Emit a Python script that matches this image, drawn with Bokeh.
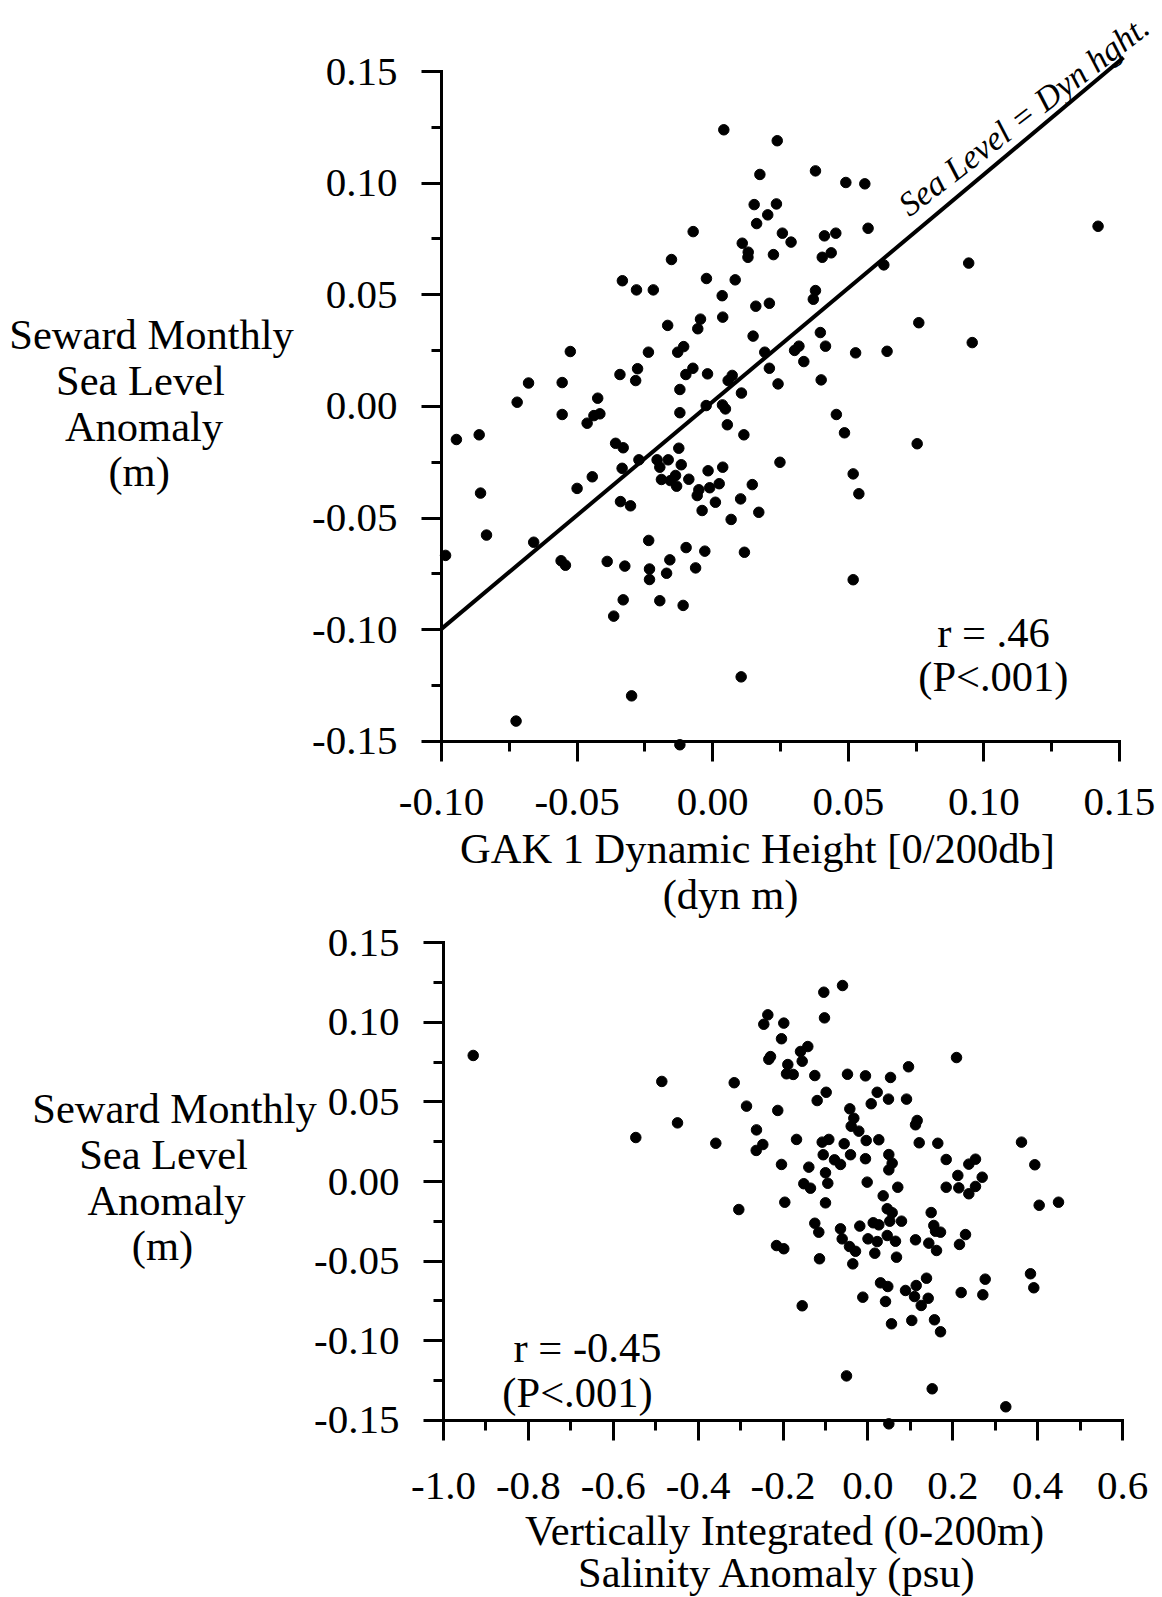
import math
from bokeh.plotting import figure
from bokeh.models import FixedTicker, Range1d, Label, LinearAxis
from bokeh.embed import file_html
from bokeh.resources import INLINE

FONT = "Liberation Serif"

# ---------------- data: top panel (GAK1 dynamic height vs sea level) ----------------
top_x = [0.0041, 0.0238, 0.0174, 0.0153, 0.0235, 0.0203, 0.0162, 0.0257, -0.0072, 0.0109,
         0.0131, 0.0130, 0.0224, -0.0152, -0.0333, -0.0281, -0.0219, -0.0023, 0.0083, 0.0035,
         0.0159, 0.0209, 0.0037, -0.0166, -0.0045, -0.0055, 0.0149, -0.0525, -0.0237, -0.0107,
         -0.0129, 0.0192, -0.0277, -0.0073, -0.0099, -0.0019, 0.0072, 0.0057, 0.0209, -0.0342,
         -0.0284, -0.0679, -0.0555, 0.0241, -0.0721, -0.0424, -0.0121, 0.0106, 0.0036, -0.0024,
         -0.0555, -0.0463, -0.0438, -0.0416, -0.0121, 0.0047, 0.0054, 0.0115, -0.0945, -0.0861,
         -0.0856, -0.0834, -0.0985, -0.0660, -0.0559, -0.0543, -0.0500, -0.0444, -0.0358, -0.0330,
         -0.0334, -0.0272, -0.0340, -0.0303, -0.0205, -0.0164, -0.0195, -0.0125, -0.0116, -0.0137,
         -0.0189, -0.0156, -0.0133, -0.0088, -0.0017, 0.0037, -0.0051, -0.0057, -0.0011, 0.0024,
         -0.0039, 0.0010, 0.0103, 0.0146, 0.0068, 0.0170, 0.0248, -0.0236, -0.0389, -0.0324,
         -0.0233, -0.0233, -0.0158, -0.0170, -0.0098, -0.0029, -0.0063, 0.0117, -0.0330, -0.0365,
         -0.0195, -0.0109, 0.0105, -0.0299, -0.0725, -0.0121,
         0.0379, 0.0491, 0.0561, 0.0289, 0.0412, 0.0454, 0.0573, 0.0404, 0.0437, 0.0631,
         0.0944, 0.1421, 0.0379, 0.0371, 0.0397, 0.0760, 0.0957, 0.0302, 0.0318, 0.0416,
         0.0336, 0.0527, 0.0643, 0.0400,
         0.0456, 0.0486, 0.0754, 0.0518, 0.0539, 0.0518]
top_y = [0.1239, 0.1190, 0.1039, 0.0904, 0.0907, 0.0858, 0.0819, 0.0776, 0.0783, 0.0731,
         0.0691, 0.0668, 0.0680, 0.0658, 0.0563, 0.0522, 0.0522, 0.0573, 0.0567, 0.0496,
         0.0449, 0.0462, 0.0400, 0.0363, 0.0391, 0.0348, 0.0315, 0.0246, 0.0243, 0.0268,
         0.0243, 0.0243, 0.0169, 0.0171, 0.0143, 0.0146, 0.0139, 0.0116, 0.0171, 0.0143,
         0.0116, 0.0105, 0.0107, 0.0101, 0.0019, 0.0037, 0.0076, 0.0060, 0.0007, 0.0004,
         -0.0036, -0.0075, -0.0041, -0.0033, -0.0028, -0.0011, -0.0082, -0.0127, -0.0148, -0.0127,
         -0.0388, -0.0576, -0.0667, -0.0608, -0.0691, -0.0711, -0.0367, -0.0315, -0.0165, -0.0185,
         -0.0277, -0.0239, -0.0426, -0.0445, -0.0239, -0.0239, -0.0272, -0.0187, -0.0261, -0.0309,
         -0.0327, -0.0332, -0.0357, -0.0326, -0.0288, -0.0272, -0.0373, -0.0399, -0.0364, -0.0346,
         -0.0466, -0.0429, -0.0414, -0.0350, -0.0506, -0.0474, -0.0250, -0.0600, -0.0694, -0.0715,
         -0.0728, -0.0775, -0.0687, -0.0747, -0.0632, -0.0648, -0.0723, -0.0653, -0.0866, -0.0939,
         -0.0870, -0.0891, -0.1211, -0.1296, -0.1409, -0.1515,
         0.1055, 0.1003, 0.0997, 0.0736, 0.0764, 0.0776, 0.0798, 0.0668, 0.0688, 0.0634,
         0.0642, 0.0807, 0.0519, 0.0480, 0.0331, 0.0375, 0.0286, 0.0251, 0.0270, 0.0270,
         0.0201, 0.0240, 0.0247, 0.0119,
         -0.0036, -0.0118, -0.0167, -0.0302, -0.0391, -0.0776]

# reference line "Sea Level = Dyn hght." (end points)
line_x = [-0.1000, 0.1515]
line_y = [-0.0996, 0.1563]

# ---------------- data: bottom panel (salinity anomaly vs sea level) ----------------
bot_x = [-0.930, -0.4856, -0.315, -0.4486, -0.5469, -0.3584, -0.286, -0.2625, -0.2476, -0.2632,
         -0.2358, -0.2453, -0.2295, -0.2335,
         -0.1982, -0.1039, -0.0598, -0.1023, -0.2036, -0.1416, -0.1588, -0.1548, -0.1887, -0.1918,
         -0.176, -0.1251, -0.0481, -0.0057, 0.0533, 0.0957, 0.2088, -0.0983, -0.1195, 0.0219,
         0.0078, 0.0485, 0.091, -0.2124, -0.0426, -0.0332, -0.0394, -0.0214, 0.1161, 0.1122,
         -0.1682, -0.1077, -0.0921, -0.0559, -0.0040, 0.0257, 0.1209, 0.1647, 0.3619, -0.2036,
         -0.1392, -0.1053, -0.0787, -0.0646, -0.041, -0.0057, 0.0493, 0.0572, 0.0493, -0.0999,
         0.1845, 0.2378, 0.2535, 0.2119, 0.2693, 0.3933,
         -0.151, -0.1353, -0.0945, -0.0017, 0.0704, 0.1845, 0.2142, 0.2378, 0.2535, -0.1958,
         -0.0999, 0.036, 0.4036, 0.4491, 0.0455, 0.0572, 0.0516, 0.0792, 0.1491, -0.1251,
         -0.1157, -0.0646, -0.0191, 0.0125, 0.0257, 0.1553, 0.1593, 0.1711, 0.23, -0.2154,
         -0.1982, -0.0606, -0.0434, -0.0292, 0.0002, 0.0219, 0.0455, 0.065, 0.1122, 0.1435,
         0.1617, 0.2158, -0.114, -0.0356, 0.0163, 0.0674, 0.0297, 0.0469, 0.1381, 0.1138,
         0.0886, 0.1098, 0.1421, 0.1256, -0.012, 0.0415, 0.2198, 0.2708, 0.2764, 0.3831,
         0.3909, -0.1548, 0.0556, 0.1034, 0.1569, 0.1711, -0.0504, 0.1515, 0.3249, 0.0493,
         -0.3042]
bot_y = [0.0791, 0.0628, 0.062, 0.0368, 0.0276, 0.024, 0.0473, 0.0324, 0.0232, 0.0195,
         0.1046, 0.0987, 0.0784, 0.0767,
         0.0994, 0.1188, 0.123, 0.1027, 0.0896, 0.0847, 0.0816, 0.0755, 0.0734, 0.0676,
         0.0672, 0.0665, 0.0673, 0.0663, 0.0653, 0.072, 0.0778, 0.056, 0.0508, 0.056,
         0.0488, 0.0517, 0.0517, 0.0446, 0.0456, 0.0397, 0.0347, 0.0316, 0.0383, 0.0356,
         0.0264, 0.0247, 0.0264, 0.0237, 0.0257, 0.0262, 0.0243, 0.024, 0.0247, 0.0107,
         0.009, 0.0168, 0.0136, 0.0107, 0.0168, 0.0143, 0.0169, 0.0115, 0.0073, 0.0055,
         0.0138, 0.0109, 0.014, 0.0038, 0.0027, 0.0105,
         -0.0014, -0.0042, -0.0011, -0.0004, -0.0036, -0.0036, -0.004, -0.0077, -0.0031, -0.013,
         -0.0134, -0.009, -0.0149, -0.013, -0.0171, -0.0196, -0.0249, -0.0249, -0.0195, -0.0262,
         -0.0318, -0.0297, -0.028, -0.0259, -0.0272, -0.0276, -0.0312, -0.0318, -0.0333, -0.0402,
         -0.0422, -0.036, -0.0408, -0.0438, -0.036, -0.0377, -0.0339, -0.0375, -0.0366, -0.0387,
         -0.0433, -0.0395, -0.0485, -0.0517, -0.045, -0.0475, -0.0636, -0.0659, -0.0607, -0.0653,
         -0.0684, -0.0722, -0.0733, -0.0778, -0.0726, -0.0753, -0.0697, -0.0711, -0.0613, -0.0579,
         -0.0667, -0.078, -0.0893, -0.0872, -0.0868, -0.0943, -0.122, -0.1301, -0.1414, -0.1521,
         -0.0176]

# ---------------- ticks ----------------
top_xticks = [-0.10, -0.05, 0.00, 0.05, 0.10, 0.15]
top_xtick_labels = ["-0.10", "-0.05", "0.00", "0.05", "0.10", "0.15"]
top_xminor = [-0.075, -0.025, 0.025, 0.075, 0.125]

yticks = [-0.15, -0.10, -0.05, 0.00, 0.05, 0.10, 0.15]
ytick_labels = ["-0.15", "-0.10", "-0.05", "0.00", "0.05", "0.10", "0.15"]
yminor = [-0.125, -0.075, -0.025, 0.025, 0.075, 0.125]

bot_xticks = [-1.0, -0.8, -0.6, -0.4, -0.2, 0.0, 0.2, 0.4, 0.6]
bot_xtick_labels = ["-1.0", "-0.8", "-0.6", "-0.4", "-0.2", "0.0", "0.2", "0.4", "0.6"]
bot_xminor = [-0.9, -0.7, -0.5, -0.3, -0.1, 0.1, 0.3, 0.5]

TICK_FS = "41px"
TEXT_FS = "42.5px"


def style_axis(ax, ticks, labels, minor, standoff, bounds, loc):
    ax.ticker = FixedTicker(ticks=ticks, minor_ticks=minor)
    ax.major_label_overrides = {t: l for t, l in zip(ticks, labels)}
    ax.bounds = bounds
    ax.fixed_location = loc
    ax.axis_line_width = 3
    ax.axis_line_color = "black"
    ax.axis_line_cap = "square"
    ax.major_tick_line_width = 3
    ax.minor_tick_line_width = 3
    ax.major_tick_line_color = "black"
    ax.minor_tick_line_color = "black"
    ax.major_tick_out = 20
    ax.major_tick_in = 0
    ax.minor_tick_out = 10
    ax.minor_tick_in = 0
    ax.major_label_text_font = FONT
    ax.major_label_text_font_size = TICK_FS
    ax.major_label_text_color = "black"
    ax.major_label_standoff = standoff


# One figure whose frame is the whole page; the two panels use their own ranges.
p = figure(x_range=Range1d(-0.26261, 0.16586), y_range=Range1d(-0.53339, 0.18180),
           frame_width=1162, frame_height=1597, min_border=0,
           output_backend="svg", toolbar_location=None)
try:
    p.title = None
except Exception:
    p.title.visible = False
p.outline_line_color = None
p.xgrid.visible = False
p.ygrid.visible = False
p.background_fill_color = "white"
p.border_fill_color = "white"
p.extra_x_ranges = {"bx": Range1d(-2.04383, 0.69415)}
p.extra_y_ranges = {"by": Range1d(-0.26109, 0.74122)}


def add_text(x, y, text, size=TEXT_FS, align="center", baseline="middle",
             angle=0.0, style="normal", xr="default", yr="default"):
    p.add_layout(Label(x=x, y=y, x_units="data", y_units="data", text=text,
                       x_range_name=xr, y_range_name=yr,
                       text_font=FONT, text_font_size=size, text_font_style=style,
                       text_align=align, text_baseline=baseline, angle=angle,
                       text_color="black"))


# ---------------- top panel ----------------
style_axis(p.xaxis[0], top_xticks, top_xtick_labels, top_xminor, 28, (-0.10, 0.15), -0.15)
style_axis(p.yaxis[0], yticks, ytick_labels, yminor, 24, (-0.15, 0.15), -0.10)
p.line(line_x, line_y, line_width=4, line_color="black")
p.scatter(top_x, top_y, size=10.5, marker="circle", fill_color="black", line_color="black")

add_text(-0.2069, 0.0322, "Seward Monthly")
add_text(-0.2110, 0.0116, "Sea Level")
add_text(-0.2097, -0.0090, "Anomaly")
add_text(-0.2115, -0.0291, "(m)")
add_text(0.0165, -0.1980, "GAK 1 Dynamic Height [0/200db]")
add_text(0.0066, -0.2186, "(dyn m)")
add_text(0.1035, -0.1012, "r = .46")
add_text(0.1035, -0.1209, "(P<.001)")
add_text(0.0700, 0.0887, "Sea Level = Dyn hght.", size="34px", align="left",
         baseline="alphabetic", angle=math.radians(37.5), style="italic")

# ---------------- bottom panel ----------------
bxa = LinearAxis(x_range_name="bx", y_range_name="by")
p.add_layout(bxa, "below")
bya = LinearAxis(x_range_name="bx", y_range_name="by")
p.add_layout(bya, "left")
style_axis(bxa, bot_xticks, bot_xtick_labels, bot_xminor, 33, (-1.0, 0.6), -0.15)
style_axis(bya, yticks, ytick_labels, yminor, 24, (-0.15, 0.15), -1.0)
p.scatter(bot_x, bot_y, size=10.5, marker="circle", fill_color="black", line_color="black",
          x_range_name="bx", y_range_name="by")

B = dict(xr="bx", yr="by")
add_text(-1.6338, 0.0458, "Seward Monthly", **B)
add_text(-1.6597, 0.0169, "Sea Level", **B)
add_text(-1.6527, -0.0119, "Anomaly", **B)
add_text(-1.6621, -0.0402, "(m)", **B)
add_text(-0.1965, -0.2190, "Vertically Integrated (0-200m)", **B)
add_text(-0.2130, -0.2454, "Salinity Anomaly (psu)", **B)
add_text(-0.6607, -0.1042, "r = -0.45", **B)
add_text(-0.6843, -0.1324, "(P<.001)", **B)

html = file_html(p, INLINE)
html = html.replace("<head>", "<head><style>html,body{margin:0;padding:0;}</style>", 1)
open("out.html", "w").write(html)
